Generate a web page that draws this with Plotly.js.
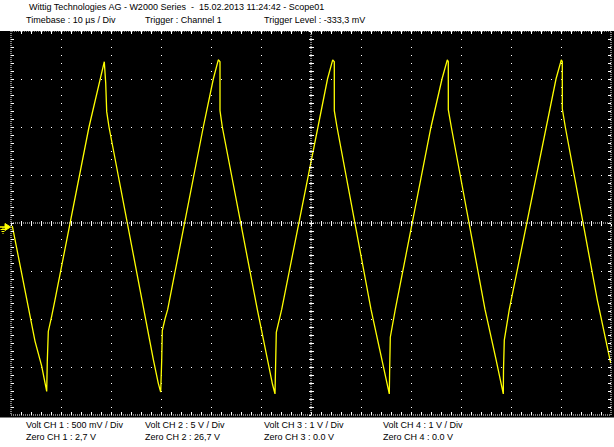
<!DOCTYPE html>
<html><head><meta charset="utf-8">
<script src="https://cdn.plot.ly/plotly-3.0.1.min.js"></script>
<style>html,body{margin:0;padding:0;background:#fff;overflow:hidden;} #chart{width:614px;height:447px;}</style>
</head><body><div id="chart"></div>
<script>
// CH1 trace: time in µs (10 µs/div, 12 div), voltage in V relative to screen centre (500 mV/div)
const timeUs = [0.26, 3.26, 4.8, 6.14, 7.14, 7.26, 7.46, 8.14, 8.8, 15.6, 17.8, 18.66, 18.94, 19.14, 19.6,
  26.46, 28.46, 29.46, 29.94, 30.14, 30.26, 30.8, 31.34, 38.46, 40.46, 41.46, 41.8, 41.8, 42.26,
  49.26, 51.26, 52.3, 52.8, 52.94, 53.06, 54.14, 61.46, 63.3, 64.34, 64.66, 64.66, 65.2,
  72.0, 74.1, 75.66, 75.74, 75.86, 76.86, 84.0, 86.2, 87.26, 87.46, 87.46, 88.06,
  94.8, 97.0, 98.46, 98.5, 98.66, 99.66, 106.94, 109.0, 110.06, 110.26, 110.26, 110.86,
  117.26, 119.94];
const ch1Volts = [-0.03, -0.80, -1.23, -1.49, -1.755, -1.44, -1.13, -0.97, -0.80, 1.0, 1.49, 1.68, 1.46, 1.16, 1.0,
  -0.90, -1.42, -1.67, -1.76, -1.43, -1.12, -1.0, -0.90, 1.0, 1.5, 1.70, 1.68, 1.17, 1.0,
  -0.90, -1.42, -1.68, -1.78, -1.45, -1.14, -0.90, 1.0, 1.5, 1.70, 1.68, 1.17, 1.0,
  -0.90, -1.42, -1.78, -1.50, -1.19, -0.90, 1.0, 1.5, 1.70, 1.68, 1.18, 1.0,
  -0.90, -1.42, -1.78, -1.53, -1.22, -0.90, 1.0, 1.5, 1.70, 1.68, 1.19, 1.0,
  -0.80, -1.46];

const headerLine1 = "Wittig Technologies AG - W2000 Series \u00a0-\u00a0 15.02.2013 11:24:42 - Scope01";
const headerLine2 = ["Timebase : 10 µs / Div", "Trigger : Channel 1", "Trigger Level : -333,3 mV"];
const voltLabels = ["Volt CH 1 : 500 mV / Div", "Volt CH 2 : 5 V / Div", "Volt CH 3 : 1 V / Div", "Volt CH 4 : 1 V / Div"];
const zeroLabels = ["Zero CH 1 : 2,7 V", "Zero CH 2 : 26,7 V", "Zero CH 3 : 0.0 V", "Zero CH 4 : 0.0 V"];

const timeRange = [0, 120];
const voltRange = [-2, 2];

// layout helpers (pixel -> paper)
const W = 614, H = 447, L = 11, R = 3, T = 31, B = 32;
const PW = W - L - R, PH = H - T - B;
const px = v => (v - L) / PW;
const py = v => (T + PH - v) / PH;

const textFont = {family: "Liberation Sans, Arial, sans-serif", size: 9, color: "#000"};
const annotations = [];
function addText(text, x, y) {
  annotations.push({text: text, x: px(x), y: py(y), xref: "paper", yref: "paper",
    xanchor: "left", yanchor: "middle", showarrow: false, font: textFont, borderpad: 0});
}
addText(headerLine1, 27.5, 7);
const cols = [25, 144, 263, 382];
headerLine2.forEach((t, i) => addText(t, cols[i], 20));
voltLabels.forEach((t, i) => addText(t, cols[i], 424.5));
zeroLabels.forEach((t, i) => addText(t, cols[i], 437));

const white = "#ffffff";
const yellow = "#ffff00";
const shapes = [
  // black screen area
  {type: "rect", xref: "paper", yref: "paper", x0: px(0), x1: px(W), y0: py(417.5), y1: py(31), fillcolor: "#000", line: {width: 0}, layer: "below"},
  // dotted border
  {type: "rect", xref: "paper", yref: "paper", x0: 0, x1: 1, y0: 0, y1: 1, line: {color: white, width: 1, dash: "1px,1px"}},
  // centre cross
  {type: "line", xref: "paper", yref: "paper", x0: 0, x1: 1, y0: 0.5, y1: 0.5, line: {color: white, width: 1, dash: "1px,1px"}},
  {type: "line", xref: "paper", yref: "paper", x0: 0.5, x1: 0.5, y0: 0, y1: 1, line: {color: white, width: 1, dash: "1px,1px"}},
  // trigger / ground marker
  {type: "path", xref: "paper", yref: "paper", path: `M${px(5)},${py(223.5)} L${px(10.5)},${py(227)} L${px(5)},${py(230.5)} Z`, fillcolor: yellow, line: {color: yellow, width: 1}},
  {type: "line", xref: "paper", yref: "paper", x0: px(0), x1: px(5), y0: py(227), y1: py(227), line: {color: yellow, width: 1.5}},
  {type: "line", xref: "paper", yref: "paper", x0: px(3), x1: px(3), y0: py(227), y1: py(229.5), line: {color: yellow, width: 1}},
  {type: "line", xref: "paper", yref: "paper", x0: px(0.5), x1: px(5.5), y0: py(229.5), y1: py(229.5), line: {color: yellow, width: 1}},
  {type: "line", xref: "paper", yref: "paper", x0: px(1.5), x1: px(4.5), y0: py(231.5), y1: py(231.5), line: {color: yellow, width: 1}},
  {type: "line", xref: "paper", yref: "paper", x0: px(2.5), x1: px(3.5), y0: py(233.5), y1: py(233.5), line: {color: yellow, width: 1}}
];

const hidden = {showticklabels: false, zeroline: false, showline: false, fixedrange: true};
const layout = {
  width: W, height: H,
  margin: {l: L, r: R, t: T, b: B, pad: 0},
  paper_bgcolor: "#ffffff",
  plot_bgcolor: "#000000",
  showlegend: false,
  xaxis: Object.assign({}, hidden, {range: timeRange, tick0: 0, dtick: 10, showgrid: true, gridcolor: white, gridwidth: 1, griddash: "1px,7px",
    ticks: "inside", ticklen: 3, tickcolor: white, tickwidth: 1, mirror: "ticks",
    minor: {tick0: 0, dtick: 2, ticks: "inside", ticklen: 3, tickcolor: white, tickwidth: 1, showgrid: false}}),
  yaxis: Object.assign({}, hidden, {range: voltRange, tick0: -2, dtick: 0.5, showgrid: true, gridcolor: white, gridwidth: 1, griddash: "1px,9px",
    ticks: "inside", ticklen: 3, tickcolor: white, tickwidth: 1, mirror: "ticks",
    minor: {tick0: -2, dtick: 0.5 / 6, ticks: "inside", ticklen: 3, tickcolor: white, tickwidth: 1, showgrid: false}}),
  xaxis2: Object.assign({}, hidden, {overlaying: "x", anchor: "free", position: 0.5, range: timeRange, tick0: 0, dtick: 2, showgrid: false, ticks: "outside", ticklen: 2, tickcolor: white, tickwidth: 1}),
  xaxis3: Object.assign({}, hidden, {overlaying: "x", anchor: "free", position: 0.5, range: timeRange, tick0: 0, dtick: 2, showgrid: false, ticks: "inside", ticklen: 2, tickcolor: white, tickwidth: 1}),
  yaxis2: Object.assign({}, hidden, {overlaying: "y", anchor: "free", position: 0.5, range: voltRange, tick0: -2, dtick: 0.5 / 6, showgrid: false, ticks: "outside", ticklen: 2, tickcolor: white, tickwidth: 1}),
  yaxis3: Object.assign({}, hidden, {overlaying: "y", anchor: "free", position: 0.5, range: voltRange, tick0: -2, dtick: 0.5 / 6, showgrid: false, ticks: "inside", ticklen: 2, tickcolor: white, tickwidth: 1}),
  shapes: shapes,
  annotations: annotations
};

const traces = [
  {x: [], y: [], xaxis: "x2", yaxis: "y", hoverinfo: "skip", type: "scatter", mode: "lines"},
  {x: [], y: [], xaxis: "x3", yaxis: "y", hoverinfo: "skip", type: "scatter", mode: "lines"},
  {x: [], y: [], xaxis: "x", yaxis: "y2", hoverinfo: "skip", type: "scatter", mode: "lines"},
  {x: [], y: [], xaxis: "x", yaxis: "y3", hoverinfo: "skip", type: "scatter", mode: "lines"},
  {x: timeUs, y: ch1Volts, type: "scatter", mode: "lines", line: {color: yellow, width: 1.3}, name: "CH 1", hoverinfo: "skip"}
];

Plotly.newPlot("chart", traces, layout, {staticPlot: true, displayModeBar: false});
</script>
</body></html>
